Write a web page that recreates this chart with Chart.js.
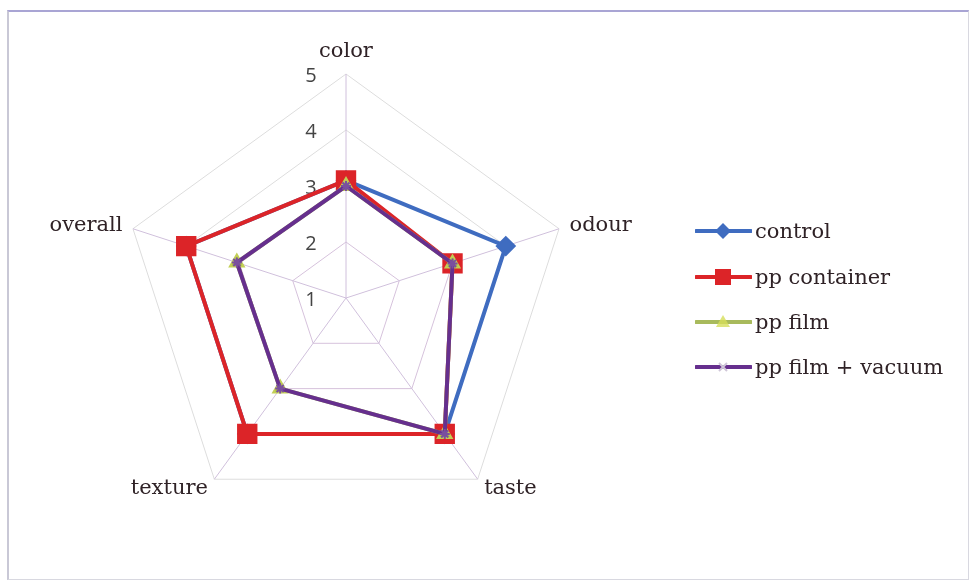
<!DOCTYPE html>
<html>
<head>
<meta charset="utf-8">
<script src="https://cdn.jsdelivr.net/npm/chart.js@4.4.1/dist/chart.umd.min.js"></script>
<style>
  html, body { margin: 0; padding: 0; background: #ffffff; }
  #wrap { position: relative; width: 971px; height: 582px; overflow: hidden; background: #ffffff; }
  #frame {
    position: absolute; left: 7px; top: 10px; width: 962px; height: 570px; box-sizing: border-box;
    border-top: 2px solid #a9a5d4; border-left: 2px solid #c9c8d6;
    border-right: 1px solid #d8d8e0; border-bottom: 1px solid #d8d8e0;
  }
  #chart { position: absolute; left: 0; top: 0; }
  #legend { position: absolute; left: 695px; top: 0; }
  .item {
    position: absolute; left: 0; height: 24px; display: flex; align-items: center; white-space: nowrap;
    font-family: "DejaVu Serif", serif; font-size: 21px; color: #2f2226;
  }
  .item svg { margin-right: 3px; }
</style>
</head>
<body>
<div id="wrap">
  <div id="frame"></div>
  <canvas id="chart" width="971" height="582"></canvas>
  <div id="legend"></div>
</div>
<script>
// Sensory attributes (radar axes)
const categories = ['color', 'odour', 'taste', 'texture', 'overall'];

// Series names
const seriesNames = ['control', 'pp container', 'pp film', 'pp film + vacuum'];

// Mean sensory scores per attribute
const control      = [3.1, 4.0, 4.0, 4.0, 4.0];
const ppContainer  = [3.1, 3.0, 4.0, 4.0, 4.0];
const ppFilm       = [3.0, 3.0, 4.0, 3.0, 3.05];
const ppFilmVacuum = [3.0, 3.0, 4.0, 3.0, 3.05];

// Radial axis tick labels
const tickValues = [1, 2, 3, 4, 5];

const seriesValues = [control, ppContainer, ppFilm, ppFilmVacuum];

const seriesStyles = [
  { line: '#3f6cc0', fill: '#3f6cc0', border: '#3f6cc0', point: 'rectRot', radius: 9, order: 4 },
  { line: '#dc2428', fill: '#dc2428', border: '#dc2428', point: 'rect', radius: 13, order: 3 },
  { line: '#a8ba5c', fill: '#a9bc45', border: '#c2cf55', point: 'triangle', radius: 8, order: 2 },
  { line: '#662f8e', fill: '#8a6aa6', border: '#7a4f9e', point: 'star', radius: 5, order: 1 }
];

const datasets = seriesNames.map((name, i) => ({
  label: name,
  data: seriesValues[i],
  borderColor: seriesStyles[i].line,
  backgroundColor: seriesStyles[i].fill,
  borderWidth: 4,
  fill: false,
  pointStyle: seriesStyles[i].point,
  pointRadius: seriesStyles[i].radius,
  pointBackgroundColor: seriesStyles[i].fill,
  pointBorderColor: seriesStyles[i].border,
  pointBorderWidth: 2,
  order: seriesStyles[i].order
}));

// Value labels placed to the left of the vertical axis
const tickLabelPlugin = {
  id: 'tickLabels',
  beforeDatasetsDraw(chart) {
    const s = chart.scales.r;
    const c = chart.ctx;
    c.save();
    c.font = '20px "Open Sans"';
    c.fillStyle = '#444444';
    c.textAlign = 'center';
    c.textBaseline = 'middle';
    tickValues.forEach(v => {
      const d = s.getDistanceFromCenterForValue(v);
      c.fillText(String(v), s.xCenter - 35, s.yCenter - d + 2.5);
    });
    c.restore();
  }
};

new Chart(document.getElementById('chart'), {
  type: 'radar',
  data: { labels: categories, datasets },
  options: {
    responsive: false,
    animation: false,
    layout: { padding: { left: 6, top: 22, right: 285, bottom: 42 } },
    plugins: { legend: { display: false }, tooltip: { enabled: false } },
    elements: { line: { tension: 0 } },
    scales: {
      r: {
        min: 1,
        max: 5,
        ticks: { display: false, stepSize: 1 },
        grid: {
          color: c => (c.tick && c.tick.value >= 4) ? '#dddddd' : '#d6c2dc',
          lineWidth: 1
        },
        angleLines: { color: '#d0c0dc', lineWidth: 1 },
        pointLabels: {
          color: '#2f2226',
          font: c => ({ family: 'DejaVu Serif', size: 21, lineHeight: c.index === 0 ? 1.2 : 0 }),
          padding: c => (c.index === 0 ? 9.8 : 11)
        }
      }
    }
  },
  plugins: [tickLabelPlugin]
});

// Legend: line sample with marker, then series name
const legend = document.getElementById('legend');
const rowCenters = [231, 277, 322, 367];
function markerSvg(st) {
  const cx = 28, cy = 12;
  let m = '';
  if (st.point === 'rectRot') {
    m = `<polygon points="${cx},${cy - 8} ${cx + 8},${cy} ${cx},${cy + 8} ${cx - 8},${cy}" fill="${st.fill}"/>`;
  } else if (st.point === 'rect') {
    m = `<rect x="${cx - 8}" y="${cy - 8}" width="16" height="16" fill="${st.fill}"/>`;
  } else if (st.point === 'triangle') {
    m = `<polygon points="${cx},${cy - 7} ${cx + 7},${cy + 5} ${cx - 7},${cy + 5}" fill="#d6df5a" opacity="0.8"/>`;
  } else {
    m = `<path d="M${cx - 4} ${cy - 4} L${cx + 4} ${cy + 4} M${cx + 4} ${cy - 4} L${cx - 4} ${cy + 4}" stroke="#cfc6d8" stroke-width="2"/>`;
  }
  return `<svg width="57" height="24" viewBox="0 0 57 24"><line x1="1" y1="12" x2="56" y2="12" stroke="${st.line}" stroke-width="4" stroke-linecap="round"/>${m}</svg>`;
}
seriesNames.forEach((name, i) => {
  const row = document.createElement('div');
  row.className = 'item';
  row.style.top = (rowCenters[i] - 12) + 'px';
  row.innerHTML = markerSvg(seriesStyles[i]) + '<span></span>';
  row.querySelector('span').textContent = name;
  legend.appendChild(row);
});
</script>
</body>
</html>
